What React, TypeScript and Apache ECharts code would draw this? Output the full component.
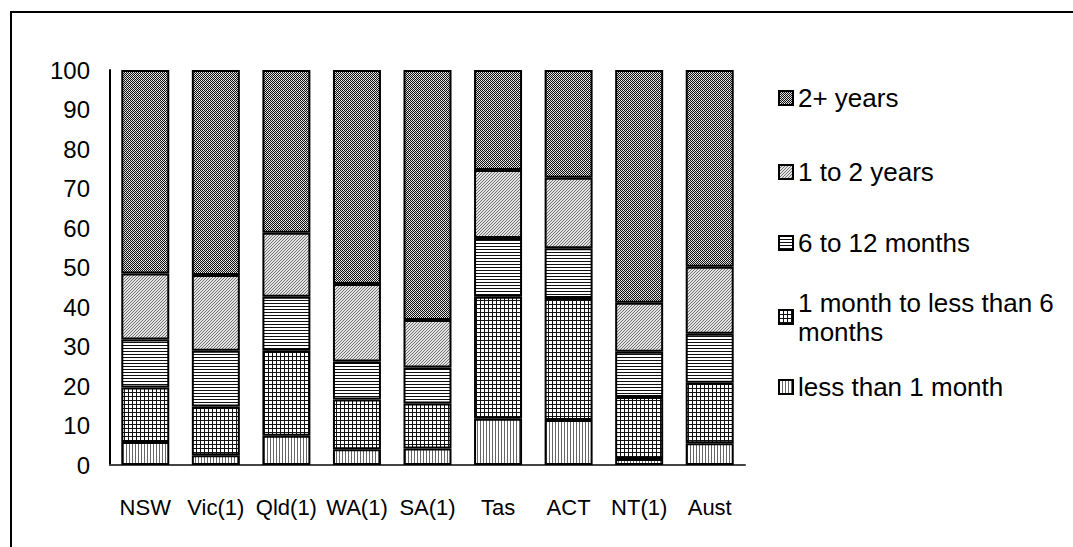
import React, { useEffect, useRef } from "react";
import * as echarts from "echarts";

const categories = ["NSW", "Vic(1)", "Qld(1)", "WA(1)", "SA(1)", "Tas", "ACT", "NT(1)", "Aust"];
const lessThan1Month = [5.8, 2.5, 7.4, 4.0, 4.2, 11.7, 11.4, 1.5, 5.5];
const oneTo6Months = [13.8, 12.3, 21.5, 12.6, 11.4, 30.9, 30.9, 15.7, 15.3];
const sixTo12Months = [12.2, 14.1, 13.7, 9.6, 9.1, 14.9, 12.6, 11.5, 12.4];
const oneTo2Years = [16.7, 19.2, 16.2, 19.6, 12.0, 17.2, 17.8, 12.4, 17.0];
const twoPlusYears = [51.5, 51.9, 41.2, 54.2, 63.3, 25.3, 27.3, 58.9, 49.8];
const seriesNames = [
  "less than 1 month",
  "1 month to less than 6 months",
  "6 to 12 months",
  "1 to 2 years",
  "2+ years",
];
const seriesData = [lessThan1Month, oneTo6Months, sixTo12Months, oneTo2Years, twoPlusYears];

function makePattern(w: number, h: number, draw: (ctx: CanvasRenderingContext2D) => void) {
  const c = document.createElement("canvas");
  c.width = w;
  c.height = h;
  const ctx = c.getContext("2d")!;
  draw(ctx);
  return { image: c, repeat: "repeat", imageWidth: w, imageHeight: h } as any;
}

function buildPatterns() {
  const vertical = makePattern(3, 3, (ctx) => {
    ctx.fillStyle = "#fff";
    ctx.fillRect(0, 0, 3, 3);
    ctx.fillStyle = "#666";
    ctx.fillRect(0, 0, 1, 3);
  });
  const grid = makePattern(4, 4, (ctx) => {
    ctx.fillStyle = "#fff";
    ctx.fillRect(0, 0, 4, 4);
    ctx.fillStyle = "#111";
    ctx.fillRect(0, 0, 4, 1);
    ctx.fillRect(0, 0, 1, 4);
  });
  const horizontal = makePattern(3, 3, (ctx) => {
    ctx.fillStyle = "#fff";
    ctx.fillRect(0, 0, 3, 3);
    ctx.fillStyle = "#111";
    ctx.fillRect(0, 0, 3, 1);
  });
  const diagonal = makePattern(3, 3, (ctx) => {
    ctx.fillStyle = "#e4e4e4";
    ctx.fillRect(0, 0, 3, 3);
    ctx.fillStyle = "#707070";
    for (let x = 0; x < 3; x++) {
      for (let y = 0; y < 3; y++) {
        if ((x + y) % 3 === 0) ctx.fillRect(x, y, 1, 1);
      }
    }
  });
  const checker = makePattern(4, 4, (ctx) => {
    ctx.fillStyle = "#d4d4d4";
    ctx.fillRect(0, 0, 4, 4);
    ctx.fillStyle = "#111";
    for (let x = 0; x < 4; x++) {
      for (let y = 0; y < 4; y++) {
        if ((x + y) % 2 === 0) ctx.fillRect(x, y, 1, 1);
      }
    }
    ctx.fillStyle = "#fff";
    ctx.fillRect(1, 0, 1, 1);
    ctx.fillRect(3, 2, 1, 1);
  });
  return [vertical, grid, horizontal, diagonal, checker];
}

const FONT = "'Liberation Sans', Arial, sans-serif";

export default function App() {
  const ref = useRef<HTMLDivElement>(null);
  useEffect(() => {
    if (!ref.current) return;
    const chart = echarts.init(ref.current, null, { renderer: "svg" });
    const patterns = buildPatterns();
    const legendOrder = [4, 3, 2, 1, 0];
    const legendTops = [83.5, 157.5, 228.5, 273.5, 372.5];
    const legends = legendOrder.map((si, i) => {
      const isWrapped = si === 1;
      return {
        data: [seriesNames[si]],
        left: 778,
        top: legendTops[i],
        orient: "vertical",
        padding: 0,
        icon: "rect",
        itemWidth: 14,
        itemHeight: 14,
        itemGap: 0,
        selectedMode: false,
        formatter: isWrapped ? () => "1 month to less than 6\nmonths" : undefined,
        textStyle: isWrapped
          ? { fontFamily: FONT, fontSize: 26, color: "#000", lineHeight: 29, padding: [29, 0, 0, 0] }
          : { fontFamily: FONT, fontSize: 26, color: "#000", lineHeight: 29 },
      };
    });
    chart.setOption({
      animation: false,
      backgroundColor: "#fff",
      graphic: [
        {
          type: "rect",
          shape: { x: 11, y: 12, width: 1200, height: 700 },
          style: { fill: "none", stroke: "#000", lineWidth: 2 },
          silent: true,
        },
      ],
      legend: legends,
      grid: { left: 110, right: 328, top: 70, bottom: 82, containLabel: false },
      xAxis: {
        type: "category",
        data: categories,
        axisTick: { show: false },
        axisLine: { lineStyle: { color: "#444", width: 2 } },
        axisLabel: { color: "#000", fontSize: 22, fontFamily: FONT, margin: 31, interval: 0 },
      },
      yAxis: {
        type: "value",
        min: 0,
        max: 100,
        interval: 10,
        splitLine: { show: false },
        axisTick: { show: false },
        axisLine: { show: true, lineStyle: { color: "#000", width: 2 } },
        axisLabel: { color: "#000", fontSize: 24, fontFamily: FONT, margin: 20 },
      },
      series: seriesData.map((d, i) => ({
        name: seriesNames[i],
        type: "bar",
        stack: "total",
        barWidth: 48,
        data: d,
        itemStyle: { color: patterns[i], borderColor: "#000", borderWidth: 2 },
      })),
    });
    return () => chart.dispose();
  }, []);
  return (
    <div
      ref={ref}
      style={{ position: "fixed", left: 0, top: 0, width: 1073, height: 547, background: "#fff" }}
    />
  );
}
